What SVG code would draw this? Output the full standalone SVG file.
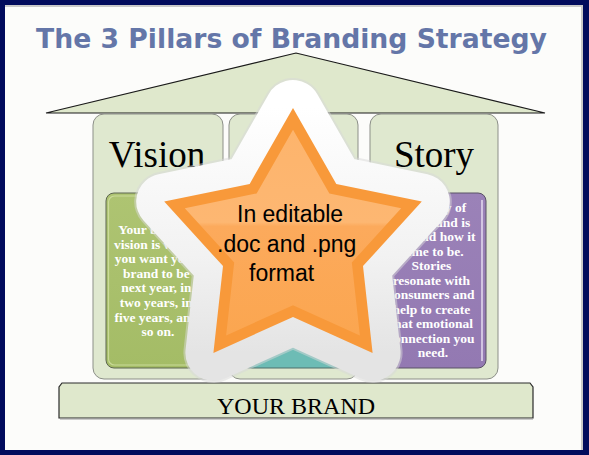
<svg xmlns="http://www.w3.org/2000/svg" width="589" height="455" viewBox="0 0 589 455">
<style>
.pillar{fill:#dfe8cf;stroke:#8c8f88;stroke-width:1}
.ptitle{font-family:"Liberation Serif",serif;font-size:37px;fill:#000;text-anchor:middle}
.btxt{font-family:"Liberation Serif",serif;font-weight:bold;font-size:13.5px;fill:#fff;text-anchor:middle}
.stxt{font-family:"Liberation Sans",Arial,sans-serif;font-size:23px;fill:#000}
</style>
<defs>
<linearGradient id="halo" x1="0" y1="0" x2="0" y2="1">
<stop offset="0" stop-color="#ffffff"/>
<stop offset="0.6" stop-color="#f2f2f2"/>
<stop offset="1" stop-color="#e4e4e4"/>
</linearGradient>
<linearGradient id="inner" x1="0" y1="0" x2="0" y2="1">
<stop offset="0" stop-color="#fdb46c"/>
<stop offset="0.45" stop-color="#fdb772"/>
<stop offset="0.47" stop-color="#fcaa5c"/>
<stop offset="1" stop-color="#fba650"/>
</linearGradient>
<linearGradient id="green" x1="0" y1="0" x2="0" y2="1">
<stop offset="0" stop-color="#aec472"/>
<stop offset="1" stop-color="#a4bc66"/>
</linearGradient>
<linearGradient id="purple" x1="0" y1="0" x2="0" y2="1">
<stop offset="0" stop-color="#9b82b8"/>
<stop offset="1" stop-color="#9379b2"/>
</linearGradient>
<polygon id="starshape" points="293,108 336.3,183.9 421.8,201.6 363,266.1 372.6,352.9 293,317 213.4,352.9 223,266.1 164.2,201.6 249.7,183.9"/>
</defs>

<!-- frame -->
<rect x="0" y="0" width="589" height="455" fill="#010b5c"/>
<rect x="5" y="5" width="578" height="445" fill="#fcfcfa"/>
<rect x="5" y="5" width="578" height="2" fill="#c9c9c9"/>
<rect x="581" y="5" width="2" height="445" fill="#c9c9c9"/>

<!-- title -->
<text x="291.5" y="48" font-family="'DejaVu Sans',Verdana,sans-serif" font-weight="bold" font-size="27" fill="#6476a8" text-anchor="middle" textLength="511" lengthAdjust="spacingAndGlyphs">The 3 Pillars of Branding Strategy</text>

<!-- roof -->
<g id="roof">
<polygon points="46,113 296,53 545,113" fill="#dfe8cc" stroke="#1a1a1a" stroke-width="1.2"/>
</g>

<!-- pillars -->
<g id="pillar-vision">
<rect class="pillar" x="93" y="114" width="130" height="265" rx="11"/>
<text class="ptitle" x="157" y="167">Vision</text>
<rect x="106" y="193" width="105" height="175" rx="8" fill="url(#green)" stroke="#5d6650" stroke-width="1"/>
<rect x="108.5" y="196" width="100" height="169" rx="6" fill="none" stroke="#d2e0a4" stroke-width="1.2" opacity="0.8"/>
<text class="btxt">
<tspan x="158" y="234">Your brand's</tspan>
<tspan x="158" y="248.6">vision is where</tspan>
<tspan x="158" y="263.2">you want your</tspan>
<tspan x="158" y="277.8">brand to be</tspan>
<tspan x="158" y="292.4">next year, in</tspan>
<tspan x="158" y="307">two years, in</tspan>
<tspan x="158" y="321.6">five years, and</tspan>
<tspan x="158" y="336.2">so on.</tspan>
</text>
</g>

<g id="pillar-middle">
<rect class="pillar" x="229" y="114" width="129" height="265" rx="11"/>
<rect x="241" y="193" width="105" height="175" rx="8" fill="#6dbcb5" stroke="#4f6e6a" stroke-width="1"/>
</g>

<g id="pillar-story">
<rect class="pillar" x="370" y="114" width="128" height="265" rx="11"/>
<text class="ptitle" x="434" y="167">Story</text>
<rect x="381" y="193" width="105" height="175" rx="8" fill="url(#purple)" stroke="#5a5266" stroke-width="1"/>
<line x1="482" y1="200" x2="482" y2="361" stroke="#e6ddf0" stroke-width="1.5"/>
<text class="btxt">
<tspan x="433" y="212">The story of</tspan>
<tspan x="433" y="226.5">your brand is</tspan>
<tspan x="433" y="241">who and how it</tspan>
<tspan x="433" y="255.5">came to be.</tspan>
<tspan x="433" y="270">Stories</tspan>
<tspan x="433" y="284.5">resonate with</tspan>
<tspan x="433" y="299">consumers and</tspan>
<tspan x="433" y="313.5">help to create</tspan>
<tspan x="433" y="328">that emotional</tspan>
<tspan x="433" y="342.5">connection you</tspan>
<tspan x="433" y="357">need.</tspan>
</text>
</g>

<!-- base -->
<g id="base">
<path d="M62,383 L530,383 L533,387 L533,418 L59,418 L59,387 Z" fill="#dfe8cc" stroke="#2a2a2a" stroke-width="1.2"/>
<line x1="60" y1="419" x2="533" y2="419" stroke="#9a9a9a" stroke-width="1"/>
<text x="296" y="414" font-family="'Liberation Serif',serif" font-size="24" fill="#000" text-anchor="middle">YOUR BRAND</text>
</g>

<!-- star badge -->
<g id="star">
<use href="#starshape" fill="#d9d9d9" stroke="#d9d9d9" stroke-width="60" stroke-linejoin="round" opacity="0.5"/>
<use href="#starshape" fill="#ffffff" stroke="url(#halo)" stroke-width="56" stroke-linejoin="round"/>
<use href="#starshape" fill="#f8993a"/>
<use href="#starshape" fill="url(#inner)" transform="translate(293 243.4) scale(0.84) translate(-293 -243.4)"/>
<text class="stxt">
<tspan x="237" y="222">In editable</tspan>
<tspan x="217" y="252">.doc and .png</tspan>
<tspan x="249" y="281">format</tspan>
</text>
</g>
</svg>
